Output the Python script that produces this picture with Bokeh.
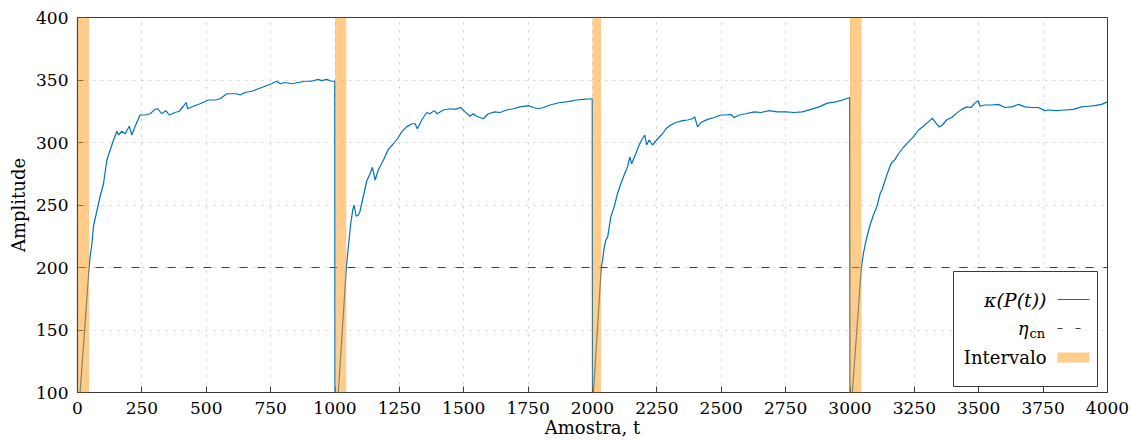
from bokeh.plotting import figure
from bokeh.models import Range1d, FixedTicker, BoxAnnotation, Span
from bokeh.core.properties import value
from bokeh.embed import file_html
from bokeh.resources import INLINE

# kappa(P(t)) over four acquisition cycles (sample index, amplitude)
t_c1 = [0, 45, 49, 56, 62, 75, 88, 101, 114, 127, 140, 153, 159, 172, 185, 201, 211, 224, 243, 263,
        282, 301, 312, 327, 343, 356, 379, 395, 411, 422, 428, 450, 476, 508, 534, 554, 580, 599, 618, 631,
        651, 677, 702, 728, 754, 774, 787, 806, 832, 858, 884, 909, 935, 948, 968, 987, 999]
k_c1 = [71, 200, 209, 219, 233, 245, 257, 267, 286, 294, 302, 309, 306, 309, 307, 313, 306, 313, 322, 322,
        323, 326.5, 327, 323, 325.5, 322, 324, 325, 329, 332, 327, 329, 331, 334, 334, 335, 339, 339, 339, 338,
        340, 341, 343, 345, 347, 349, 347, 348, 347, 348, 349, 349, 350.5, 349.5, 350.5, 349, 349]

t_c2 = [1000, 1044, 1052, 1061, 1069, 1074, 1082, 1091, 1097, 1110, 1123, 1136, 1145, 1156, 1168, 1188, 1207, 1227, 1246, 1259,
        1278, 1298, 1311, 1320, 1337, 1356, 1369, 1385, 1397, 1421, 1447, 1466, 1488, 1505, 1524, 1537, 1550, 1576, 1595, 1621,
        1641, 1667, 1692, 1718, 1751, 1770, 1789, 1809, 1835, 1874, 1899, 1938, 1964, 1999]
k_c2 = [58, 200, 217, 235, 246, 250, 241, 242, 245, 257, 269, 275, 280, 270, 278, 286, 294.5, 299, 304, 308.5,
        312.5, 315, 315, 311, 318, 324, 323, 325.5, 323, 326, 327, 326.5, 328, 324.5, 321, 323, 321, 319, 323, 324.5,
        324, 326, 327, 328.5, 329.5, 328, 327, 328, 330, 332, 332.5, 334, 334.5, 335]

t_c3 = [2000, 2034, 2039, 2046, 2052, 2059, 2071, 2084, 2097, 2110, 2123, 2136, 2145, 2152, 2168, 2181, 2194, 2203, 2210, 2220,
        2233, 2253, 2272, 2285, 2304, 2324, 2350, 2369, 2388, 2397, 2408, 2421, 2447, 2473, 2498, 2518, 2537, 2550, 2570, 2595,
        2628, 2654, 2686, 2718, 2751, 2783, 2815, 2848, 2880, 2912, 2945, 2971, 2999]
k_c3 = [87, 200, 206, 216.5, 222, 224.5, 240.5, 248.5, 259, 267, 274, 280.5, 288.5, 283, 291, 298, 303, 306, 298, 302,
        298, 303, 307, 311, 314, 316, 317.5, 318, 319, 320.5, 312.5, 316, 318.5, 320, 322, 322, 322.5, 320, 322, 323,
        324.5, 324, 325.5, 324.5, 324.5, 324, 324.5, 326.5, 328.5, 331.5, 332.5, 334, 336]

t_c4 = [3000, 3044, 3052, 3061, 3069, 3078, 3091, 3104, 3117, 3126, 3143, 3159, 3175, 3188, 3207, 3227, 3246, 3266, 3285, 3304,
        3320, 3330, 3346, 3359, 3375, 3395, 3414, 3434, 3453, 3470, 3485, 3498, 3505, 3524, 3550, 3576, 3602, 3628, 3654, 3680,
        3706, 3731, 3757, 3777, 3802, 3835, 3867, 3899, 3925, 3951, 3977, 4000]
k_c4 = [74, 200, 211, 220.5, 227, 234, 242, 248.5, 259, 263, 274, 283, 286.5, 291, 296, 300.5, 304.5, 310, 313, 316.5,
        319.5, 316.5, 312.5, 314, 318, 320, 323.5, 326.5, 328.5, 328, 331.5, 333.5, 329, 330, 330, 330.5, 328, 328.5, 330.5, 328.5,
        328, 328, 325.5, 326, 325.5, 326, 326.5, 328.5, 329, 329.5, 330.5, 332.5]

# threshold and highlighted intervals
eta_cn = 200
interval_start = [0, 1000, 2000, 3000]
interval_end = [45, 1044, 2033, 3045]

x_ticks = [0, 250, 500, 750, 1000, 1250, 1500, 1750, 2000, 2250, 2500, 2750, 3000, 3250, 3500, 3750, 4000]
y_ticks = [100, 150, 200, 250, 300, 350, 400]

t_all = t_c1 + t_c2 + t_c3 + t_c4
k_all = k_c1 + k_c2 + k_c3 + k_c4

SERIF = "DejaVu Serif"
BLUE = "#0072BD"
ORANGE = "#FF9A1A"

X0, X1, Y0, Y1 = 0, 4000, 100, 400
LEFT, TOP, FW, FH = 77, 17, 1030, 375

p = figure(width=1132, height=442, output_backend="svg", toolbar_location=None,
           x_range=Range1d(X0, X1), y_range=Range1d(Y0, Y1))
p.min_border_left = LEFT
p.min_border_right = 25
p.min_border_top = TOP
p.min_border_bottom = 50
p.background_fill_color = "white"
p.border_fill_color = "white"
p.outline_line_color = "#3a3a3a"
p.outline_line_width = 1

for ax, ticks in ((p.xaxis[0], x_ticks), (p.yaxis[0], y_ticks)):
    ax.ticker = FixedTicker(ticks=ticks)
    ax.major_tick_in = 6
    ax.major_tick_out = 0
    ax.minor_tick_line_color = None
    ax.axis_line_color = "#3a3a3a"
    ax.axis_line_width = 1.2
    ax.major_tick_line_color = "#3a3a3a"
    ax.major_label_text_font = SERIF
    ax.major_label_text_font_size = "17px"
    ax.major_label_text_color = "black"
    ax.axis_label_text_font = SERIF
    ax.axis_label_text_font_size = "18px"
    ax.axis_label_text_font_style = "normal"
    ax.axis_label_text_color = "black"

p.xaxis.axis_label = "Amostra, t"
p.yaxis.axis_label = "Amplitude"
p.xaxis.major_label_standoff = 9
p.xaxis.axis_label_standoff = 0
p.yaxis.major_label_standoff = 9
p.yaxis.axis_label_standoff = 4

p.grid.grid_line_color = "#cccccc"
p.grid.grid_line_dash = "2 6"
p.grid.grid_line_width = 1
p.xgrid.ticker = FixedTicker(ticks=x_ticks)
p.ygrid.ticker = FixedTicker(ticks=y_ticks)

# signal
p.line(t_all, k_all, line_color=BLUE, line_width=1.2)

# threshold
p.add_layout(Span(location=eta_cn, dimension="width", line_color="#404040",
                  line_dash="8 10", line_width=1.1))

# highlighted intervals, semi-transparent over the signal
for s, e in zip(interval_start, interval_end):
    p.add_layout(BoxAnnotation(left=s, right=e, fill_color=ORANGE, fill_alpha=0.5,
                               line_alpha=0))


# frame pixel position -> data coordinates (legend placement)
def dx(px):
    return X0 + (px - LEFT) / FW * (X1 - X0)


def dy(py):
    return Y1 - (py - TOP) / FH * (Y1 - Y0)


# legend box (label left, sample right)
p.quad(left=[dx(953)], right=[dx(1097)], top=[dy(271)], bottom=[dy(386)],
       fill_color="white", line_color="#3a3a3a", line_width=1)

p.text(x=[dx(1046)], y=[dy(299)], text=["κ(P(t))"], text_align="right", text_baseline="middle",
       text_font=value(SERIF), text_font_style="italic", text_font_size="19px", text_color="black")
p.segment(x0=[dx(1057)], y0=[dy(299)], x1=[dx(1089)], y1=[dy(299)], line_color=BLUE, line_width=1.2)

p.text(x=[dx(1028)], y=[dy(328)], text=["η"], text_align="right", text_baseline="middle",
       text_font=value(SERIF), text_font_style="italic", text_font_size="18px", text_color="black")
p.text(x=[dx(1029)], y=[dy(333)], text=["cn"], text_align="left", text_baseline="middle",
       text_font=value(SERIF), text_font_size="13px", text_color="black")
p.segment(x0=[dx(1057)], y0=[dy(328)], x1=[dx(1081)], y1=[dy(328)], line_color="#404040",
          line_width=1.1, line_dash="5 13")

p.text(x=[dx(1046)], y=[dy(357)], text=["Intervalo"], text_align="right", text_baseline="middle",
       text_font=value(SERIF), text_font_size="18px", text_color="black")
p.quad(left=[dx(1057)], right=[dx(1089)], top=[dy(352)], bottom=[dy(362)],
       fill_color=ORANGE, fill_alpha=0.5, line_alpha=0)

open("out.html", "w").write(file_html(p, INLINE))
